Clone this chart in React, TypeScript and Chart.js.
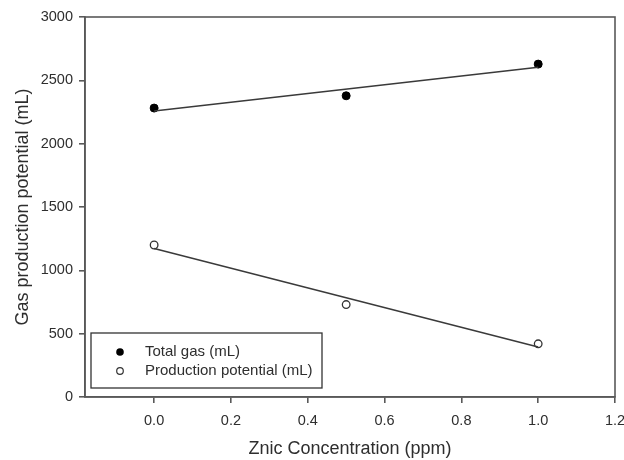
import React, { useEffect, useRef } from "react";
import { Chart, registerables } from "chart.js";

Chart.register(...registerables);

// ---- data ----
const concentrations = [0, 0.5, 1.0];
const totalGas = [2281, 2378, 2628];
const productionPotential = [1200, 730, 420];
const fitX = [0, 1.0];
const totalGasFit = [2257, 2603];
const productionFit = [1172, 395];
const xTicks = [0, 0.2, 0.4, 0.6, 0.8, 1.0, 1.2];
const yTicks = [0, 500, 1000, 1500, 2000, 2500, 3000];
const legendLabels = ["Total gas (mL)", "Production potential (mL)"];
const xTitle = "Znic Concentration (ppm)";
const yTitle = "Gas production potential (mL)";

const FONT = "'Liberation Sans', Arial, sans-serif";
const AXIS = "#595959";
const TEXT = "#2e2e2e";

const framePlugin = {
  id: "frameAndLegend",
  afterDraw(chart: any) {
    const { ctx, chartArea: a } = chart;
    ctx.save();
    ctx.strokeStyle = AXIS;
    ctx.lineWidth = 1.6;
    ctx.strokeRect(a.left, a.top, a.right - a.left, a.bottom - a.top);

    // legend box inside lower-left of plot
    const bx = a.left + 6;
    const bw = 231;
    const bh = 55;
    const by = a.bottom - 9 - bh;
    ctx.lineWidth = 1.3;
    ctx.strokeStyle = "#333";
    ctx.fillStyle = "#fff";
    ctx.fillRect(bx, by, bw, bh);
    ctx.strokeRect(bx, by, bw, bh);

    const rows = [by + 19, by + 38];
    // filled marker
    ctx.beginPath();
    ctx.arc(bx + 29, rows[0], 3.8, 0, Math.PI * 2);
    ctx.fillStyle = "#000";
    ctx.fill();
    // hollow marker
    ctx.beginPath();
    ctx.arc(bx + 29, rows[1], 3.3, 0, Math.PI * 2);
    ctx.fillStyle = "#fff";
    ctx.fill();
    ctx.lineWidth = 1.2;
    ctx.strokeStyle = "#333";
    ctx.stroke();

    ctx.fillStyle = TEXT;
    ctx.font = `15px ${FONT}`;
    ctx.textBaseline = "middle";
    ctx.textAlign = "left";
    ctx.fillText(legendLabels[0], bx + 54, rows[0]);
    ctx.fillText(legendLabels[1], bx + 54, rows[1]);
    ctx.restore();
  },
};

export default function App() {
  const ref = useRef<HTMLCanvasElement>(null);

  useEffect(() => {
    if (!ref.current) return;
    const pts = (xs: number[], ys: number[]) => xs.map((x, i) => ({ x, y: ys[i] }));
    const chart = new Chart(ref.current, {
      type: "scatter",
      data: {
        datasets: [
          {
            label: "Total gas fit",
            data: pts(fitX, totalGasFit),
            showLine: true,
            borderColor: "#3a3a3a",
            borderWidth: 1.5,
            pointRadius: 0,
          },
          {
            label: "Production fit",
            data: pts(fitX, productionFit),
            showLine: true,
            borderColor: "#3a3a3a",
            borderWidth: 1.5,
            pointRadius: 0,
          },
          {
            label: legendLabels[0],
            data: pts(concentrations, totalGas),
            pointRadius: 4,
            pointBackgroundColor: "#000",
            pointBorderColor: "#000",
            pointBorderWidth: 1,
          },
          {
            label: legendLabels[1],
            data: pts(concentrations, productionPotential),
            pointRadius: 3.8,
            pointBackgroundColor: "#fff",
            pointBorderColor: "#333",
            pointBorderWidth: 1.3,
          },
        ],
      },
      options: {
        responsive: false,
        animation: false,
        layout: { padding: { top: 17, right: 9, left: 0, bottom: 0 } },
        plugins: {
          legend: { display: false },
          tooltip: { enabled: false },
        },
        scales: {
          x: {
            type: "linear",
            min: -0.18,
            max: 1.2,
            afterBuildTicks: (scale: any) => {
              scale.ticks = xTicks.map((v) => ({ value: v }));
            },
            afterFit: (scale: any) => {
              scale.height = 63;
              scale.paddingLeft = 0;
              scale.paddingRight = 0;
            },
            border: { display: true, color: AXIS, width: 1.6 },
            grid: {
              drawOnChartArea: false,
              drawTicks: true,
              tickLength: 6,
              color: AXIS,
              lineWidth: 1.6,
            },
            ticks: {
              color: TEXT,
              font: { family: FONT, size: 14.5 },
              padding: 9,
              maxRotation: 0,
              callback: (v: any) => Number(v).toFixed(1),
            },
            title: {
              display: true,
              text: xTitle,
              color: TEXT,
              font: { family: FONT, size: 18 },
              padding: { top: 4, bottom: 0 },
            },
          },
          y: {
            type: "linear",
            min: 0,
            max: 3000,
            afterBuildTicks: (scale: any) => {
              scale.ticks = yTicks.map((v) => ({ value: v }));
            },
            afterFit: (scale: any) => {
              scale.width = 85;
              scale.paddingTop = 0;
              scale.paddingBottom = 0;
            },
            border: { display: true, color: AXIS, width: 1.6 },
            grid: {
              drawOnChartArea: false,
              drawTicks: true,
              tickLength: 6,
              color: AXIS,
              lineWidth: 1.6,
            },
            ticks: {
              color: TEXT,
              font: { family: FONT, size: 14.5 },
              padding: 6,
              callback: (v: any) => String(v),
            },
            title: {
              display: true,
              text: yTitle,
              color: TEXT,
              font: { family: FONT, size: 18 },
              padding: { top: 12, bottom: 4 },
            },
          },
        },
      },
      plugins: [framePlugin],
    });
    return () => chart.destroy();
  }, []);

  return (
    <div style={{ position: "fixed", left: 0, top: 0, width: 624, height: 460, background: "#fff" }}>
      <canvas ref={ref} width={624} height={460} style={{ width: 624, height: 460, display: "block" }} />
    </div>
  );
}
